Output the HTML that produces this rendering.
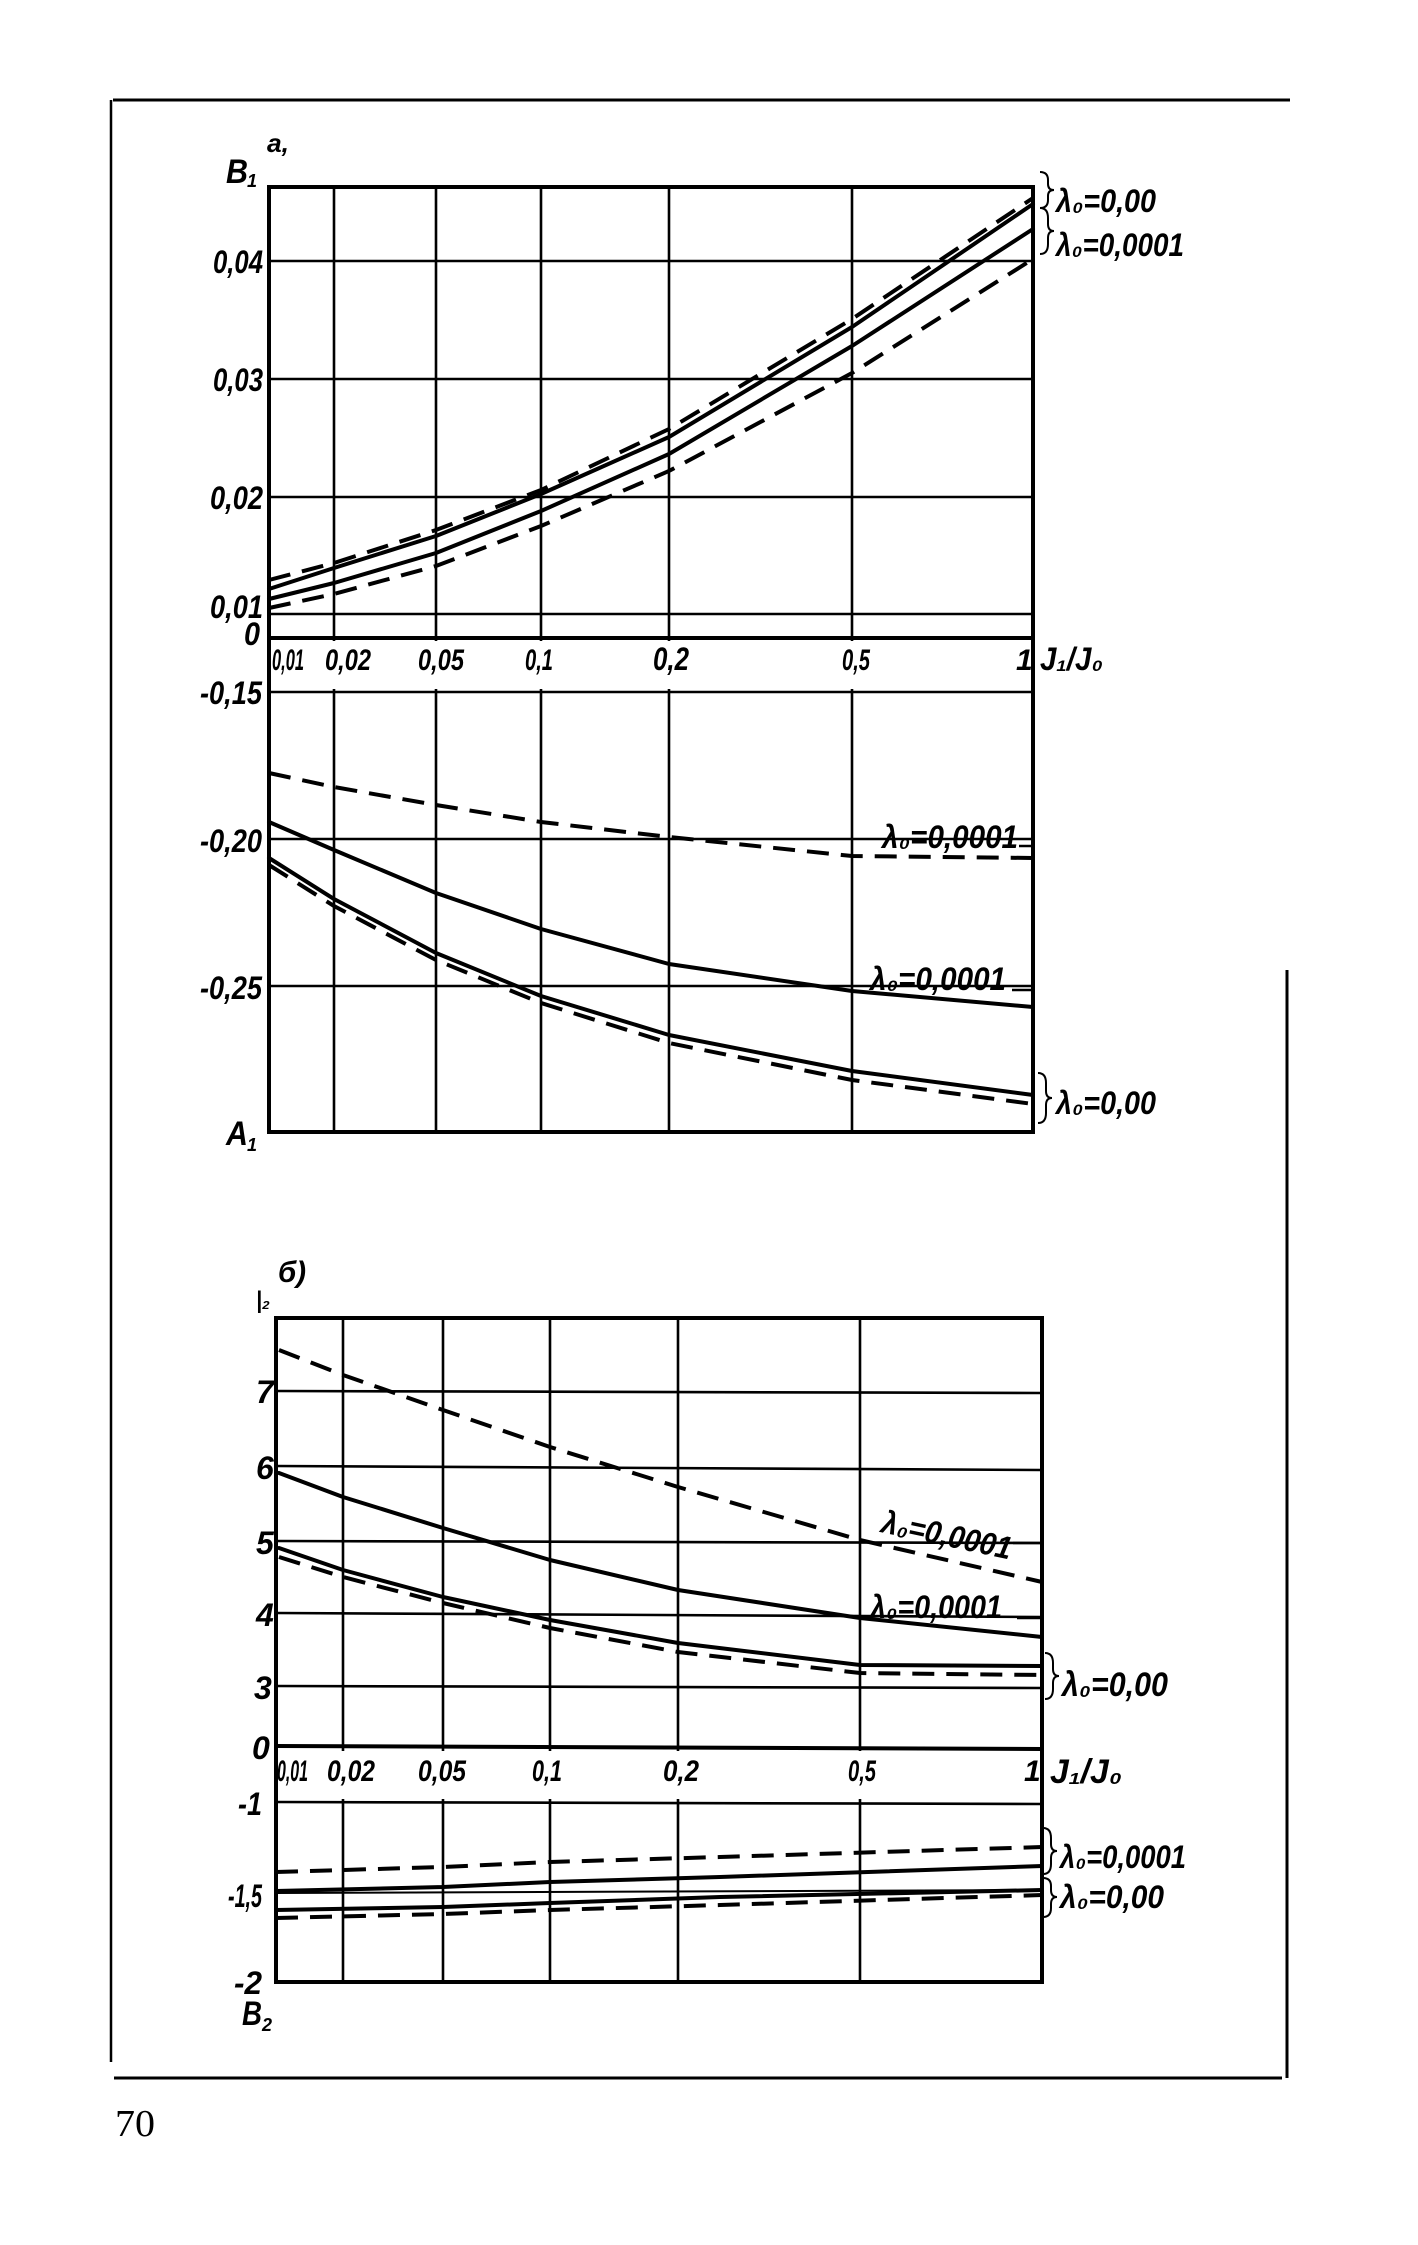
<!DOCTYPE html>
<html><head><meta charset="utf-8"><style>
html,body{margin:0;padding:0;background:#fff}
svg{display:block}
text{font-family:"Liberation Sans",sans-serif;font-style:italic;font-weight:bold;fill:#000}
.g{stroke:#000;stroke-width:2.6;fill:none}
.ax{stroke:#000;stroke-width:4;fill:none}
.s{stroke:#000;stroke-width:4;fill:none;stroke-linejoin:round;stroke-linecap:round}
.d{stroke:#000;stroke-width:4;fill:none;stroke-dasharray:22 12}
.br{stroke:#000;stroke-width:2;fill:none}
</style></head><body>
<svg width="1418" height="2245" viewBox="0 0 1418 2245" xmlns="http://www.w3.org/2000/svg">
<line x1="113" y1="100" x2="1290" y2="100" stroke="#000" stroke-width="3"/>
<line x1="111" y1="100" x2="111" y2="2062" stroke="#000" stroke-width="2.5"/>
<line x1="1287" y1="970" x2="1287" y2="2078" stroke="#000" stroke-width="3"/>
<line x1="114" y1="2078" x2="1282" y2="2078" stroke="#000" stroke-width="3"/>
<text x="115" y="2136" font-size="38" style="font-style:normal;font-weight:normal;font-family:'Liberation Serif',serif" textLength="40" lengthAdjust="spacingAndGlyphs">70</text>

<g>
<line class="g" x1="334" y1="187" x2="334" y2="1132"/>
<line class="g" x1="436" y1="187" x2="436" y2="1132"/>
<line class="g" x1="541" y1="187" x2="541" y2="1132"/>
<line class="g" x1="669" y1="187" x2="669" y2="1132"/>
<line class="g" x1="852" y1="187" x2="852" y2="1132"/>
<line class="g" x1="269" y1="261" x2="1033" y2="261"/>
<line class="g" x1="269" y1="379" x2="1033" y2="379"/>
<line class="g" x1="269" y1="497" x2="1033" y2="497"/>
<line class="g" x1="269" y1="614" x2="1033" y2="614"/>
<line class="g" x1="269" y1="692" x2="1033" y2="692"/>
<line class="g" x1="269" y1="839" x2="1033" y2="839"/>
<line class="g" x1="269" y1="986" x2="1033" y2="986"/>
<line class="ax" x1="269" y1="638" x2="1033" y2="638"/>
<rect class="ax" x="269" y="187" width="764" height="945"/>
<rect x="272" y="641" width="758" height="48" fill="#fff"/>
<line class="ax" x1="269" y1="187" x2="269" y2="1132"/>
<line class="g" x1="1033" y1="187" x2="1033" y2="1132"/>

<polyline class="d" points="269,580 334,563 436,530 541,490 669,429 852,319 1033,198"/>
<polyline class="s" points="269,589 334,568 436,536 541,494 669,437 852,327 1033,204"/>
<polyline class="s" points="269,599 334,583 436,553 541,511 669,454 852,346 1033,229"/>
<polyline class="d" points="269,608 334,594 436,566 541,526 669,471 852,373 1033,259"/>
<polyline class="d" points="269,773 334,787 436,805 541,822 669,837 852,856 1033,858"/>
<polyline class="s" points="269,822 334,850 436,893 541,929 669,964 852,991 1033,1007"/>
<polyline class="s" points="269,858 334,899 436,953 541,996 669,1035 852,1071 1033,1095"/>
<polyline class="d" points="269,865 334,906 436,960 541,1003 669,1043 852,1080 1033,1104"/>

<text x="267" y="152" font-size="26" textLength="22" lengthAdjust="spacingAndGlyphs">a,</text>
<text x="226" y="183" font-size="34" textLength="22" lengthAdjust="spacingAndGlyphs">B</text>
<text x="247" y="187" font-size="18">1</text>
<text x="213" y="273" font-size="32" textLength="50" lengthAdjust="spacingAndGlyphs">0,04</text>
<text x="213" y="391" font-size="32" textLength="50" lengthAdjust="spacingAndGlyphs">0,03</text>
<text x="210" y="509" font-size="32" textLength="53" lengthAdjust="spacingAndGlyphs">0,02</text>
<text x="210" y="618" font-size="32" textLength="53" lengthAdjust="spacingAndGlyphs">0,01</text>
<text x="244" y="645" font-size="32" textLength="16" lengthAdjust="spacingAndGlyphs">0</text>
<text x="272" y="670" font-size="30" textLength="32" lengthAdjust="spacingAndGlyphs">0,01</text>
<text x="325" y="670" font-size="30" textLength="46" lengthAdjust="spacingAndGlyphs">0,02</text>
<text x="418" y="670" font-size="30" textLength="46" lengthAdjust="spacingAndGlyphs">0,05</text>
<text x="525" y="670" font-size="30" textLength="28" lengthAdjust="spacingAndGlyphs">0,1</text>
<text x="653" y="670" font-size="32" textLength="36" lengthAdjust="spacingAndGlyphs">0,2</text>
<text x="842" y="670" font-size="30" textLength="28" lengthAdjust="spacingAndGlyphs">0,5</text>
<text x="1016" y="670" font-size="30">1</text>
<text x="1040" y="670" font-size="32" textLength="63" lengthAdjust="spacingAndGlyphs">J₁/J₀</text>
<text x="200" y="704" font-size="32" textLength="62" lengthAdjust="spacingAndGlyphs">-0,15</text>
<text x="200" y="852" font-size="32" textLength="62" lengthAdjust="spacingAndGlyphs">-0,20</text>
<text x="200" y="999" font-size="32" textLength="62" lengthAdjust="spacingAndGlyphs">-0,25</text>
<text x="226" y="1145" font-size="34" textLength="22" lengthAdjust="spacingAndGlyphs">A</text>
<text x="247" y="1151" font-size="18">1</text>

<path class="br" d="M1040,172 q8,0 8,8 v4 q0,6 6,6 q-6,0 -6,6 v4 q0,8 -8,8"/>
<text x="1056" y="212" font-size="32" textLength="100" lengthAdjust="spacingAndGlyphs">λ₀=0,00</text>
<path class="br" d="M1040,208 q8,0 8,10 v6 q0,7 6,7 q-6,0 -6,7 v6 q0,10 -8,10"/>
<text x="1056" y="256" font-size="32" textLength="128" lengthAdjust="spacingAndGlyphs">λ₀=0,0001</text>
<text x="882" y="848" font-size="32" textLength="136" lengthAdjust="spacingAndGlyphs">λ₀=0,0001</text>
<line x1="1019" y1="846" x2="1033" y2="846" stroke="#000" stroke-width="2.5"/>
<text x="870" y="990" font-size="32" textLength="136" lengthAdjust="spacingAndGlyphs">λ₀=0,0001</text>
<line x1="1012" y1="990" x2="1033" y2="990" stroke="#000" stroke-width="2.5"/>
<path class="br" d="M1038,1073 q8,0 8,10 v8 q0,7 6,7 q-6,0 -6,7 v8 q0,10 -8,10"/>
<text x="1056" y="1114" font-size="32" textLength="100" lengthAdjust="spacingAndGlyphs">λ₀=0,00</text>
</g>

<g>
<line class="g" x1="343" y1="1318" x2="343" y2="1982"/>
<line class="g" x1="443" y1="1318" x2="443" y2="1982"/>
<line class="g" x1="550" y1="1318" x2="550" y2="1982"/>
<line class="g" x1="678" y1="1318" x2="678" y2="1982"/>
<line class="g" x1="860" y1="1318" x2="860" y2="1982"/>
<line class="g" x1="276" y1="1391" x2="1042" y2="1393"/>
<line class="g" x1="276" y1="1466" x2="1042" y2="1470"/>
<line class="g" x1="276" y1="1541" x2="1042" y2="1543"/>
<line class="g" x1="276" y1="1613" x2="1042" y2="1617"/>
<line class="g" x1="276" y1="1686" x2="1042" y2="1688"/>
<line class="g" x1="276" y1="1802" x2="1042" y2="1804"/>
<line class="ax" x1="276" y1="1746" x2="1042" y2="1749"/>
<rect class="ax" x="276" y="1318" width="766" height="664"/>
<rect x="279" y="1751" width="760" height="48" fill="#fff"/>
<line class="ax" x1="276" y1="1318" x2="276" y2="1982"/>
<line class="g" x1="1042" y1="1318" x2="1042" y2="1982"/>

<polyline class="d" points="279,1350 343,1375 443,1410 550,1447 678,1487 860,1540 1042,1582"/>
<polyline class="s" points="279,1473 343,1497 443,1528 550,1560 678,1590 860,1618 1042,1637"/>
<polyline class="s" points="279,1548 343,1570 443,1597 550,1620 678,1643 860,1665 1042,1666"/>
<polyline class="d" points="279,1557 343,1577 443,1603 550,1628 678,1652 860,1673 1042,1675"/>

<polyline class="d" points="276,1872 443,1867 550,1862 720,1857 1042,1847"/>
<polyline class="s" points="276,1891 443,1887 550,1882 720,1877 1042,1866"/>
<line x1="276" y1="1893" x2="1042" y2="1890" stroke="#000" stroke-width="2"/>
<polyline class="s" points="276,1910 443,1907 550,1903 720,1897 1042,1890"/>
<polyline class="d" points="276,1918 443,1914 550,1910 720,1905 1042,1895"/>

<text x="278" y="1282" font-size="30" textLength="28" lengthAdjust="spacingAndGlyphs">б)</text>
<text x="256" y="1308" font-size="24" textLength="14" lengthAdjust="spacingAndGlyphs">|₂</text>
<text x="256" y="1403" font-size="32">7</text>
<text x="256" y="1479" font-size="32">6</text>
<text x="256" y="1554" font-size="32">5</text>
<text x="256" y="1626" font-size="32">4</text>
<text x="254" y="1699" font-size="32">3</text>
<text x="252" y="1759" font-size="32">0</text>
<text x="277" y="1781" font-size="30" textLength="31" lengthAdjust="spacingAndGlyphs">0,01</text>
<text x="327" y="1781" font-size="30" textLength="48" lengthAdjust="spacingAndGlyphs">0,02</text>
<text x="418" y="1781" font-size="30" textLength="48" lengthAdjust="spacingAndGlyphs">0,05</text>
<text x="532" y="1781" font-size="30" textLength="30" lengthAdjust="spacingAndGlyphs">0,1</text>
<text x="663" y="1781" font-size="30" textLength="36" lengthAdjust="spacingAndGlyphs">0,2</text>
<text x="848" y="1781" font-size="30" textLength="28" lengthAdjust="spacingAndGlyphs">0,5</text>
<text x="1024" y="1781" font-size="30">1</text>
<text x="1050" y="1783" font-size="34" textLength="72" lengthAdjust="spacingAndGlyphs">J₁/J₀</text>
<text x="238" y="1815" font-size="32" textLength="24" lengthAdjust="spacingAndGlyphs">-1</text>
<text x="228" y="1907" font-size="32" textLength="34" lengthAdjust="spacingAndGlyphs">-1,5</text>
<text x="234" y="1994" font-size="32" textLength="28" lengthAdjust="spacingAndGlyphs">-2</text>
<text x="242" y="2025" font-size="34" textLength="20" lengthAdjust="spacingAndGlyphs">B</text>
<text x="262" y="2031" font-size="18">2</text>

<text x="0" y="0" font-size="32" textLength="132" lengthAdjust="spacingAndGlyphs" transform="translate(880,1532) rotate(12)">λ₀=0,0001</text>
<line x1="1013" y1="1543" x2="1042" y2="1543" stroke="#000" stroke-width="2.5"/>
<text x="870" y="1618" font-size="32" textLength="132" lengthAdjust="spacingAndGlyphs">λ₀=0,0001</text>
<line x1="1017" y1="1618" x2="1042" y2="1618" stroke="#000" stroke-width="2.5"/>
<path class="br" d="M1045,1653 q8,0 8,10 v6 q0,7 6,7 q-6,0 -6,7 v6 q0,10 -8,10"/>
<text x="1062" y="1696" font-size="34" textLength="106" lengthAdjust="spacingAndGlyphs">λ₀=0,00</text>
<path class="br" d="M1043,1828 q8,0 8,10 v6 q0,7 6,7 q-6,0 -6,7 v6 q0,10 -8,10"/>
<text x="1060" y="1868" font-size="32" textLength="126" lengthAdjust="spacingAndGlyphs">λ₀=0,0001</text>
<path class="br" d="M1043,1878 q8,0 8,8 v4 q0,7 6,7 q-6,0 -6,7 v4 q0,9 -8,9"/>
<text x="1060" y="1908" font-size="32" textLength="104" lengthAdjust="spacingAndGlyphs">λ₀=0,00</text>
</g>
</svg>
</body></html>
